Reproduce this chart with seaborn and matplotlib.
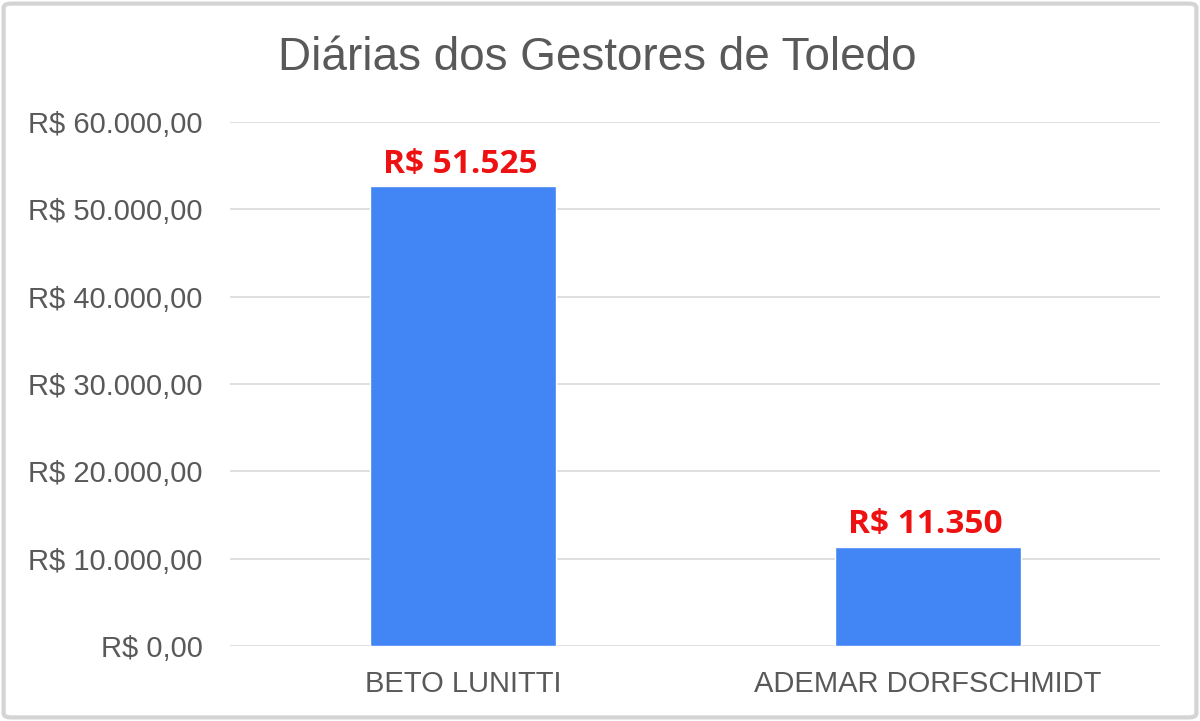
import matplotlib
matplotlib.use("Agg")
import matplotlib.pyplot as plt
from matplotlib.patches import FancyBboxPatch
from matplotlib.ticker import FuncFormatter
import seaborn as sns
import pandas as pd

gestores = ["BETO LUNITTI", "ADEMAR DORFSCHMIDT"]
diarias = [52650, 11350]
rotulos = ["R$ 51.525", "R$ 11.350"]
yticks = [0, 10000, 20000, 30000, 40000, 50000, 60000]

df = pd.DataFrame({"gestor": gestores, "valor": diarias})

sns.set_style("white")
plt.rcParams["font.family"] = ["Liberation Sans", "DejaVu Sans"]

fig = plt.figure(figsize=(12, 7.21), dpi=100)
ax = fig.add_axes([0.192, 0.104, 0.775, 0.727])

sns.barplot(data=df, x="gestor", y="valor", color="#4285F4", saturation=1,
            width=0.4, ax=ax, zorder=3)

def real(v, pos):
    s = f"{v:,.2f}".replace(",", "X").replace(".", ",").replace("X", ".")
    return "R$ " + s

ax.set_ylim(0, 60000)
ax.set_yticks(yticks)
ax.yaxis.set_major_formatter(FuncFormatter(real))
ax.grid(axis="y", color="#D9D9D9", linewidth=1.2, zorder=0)
ax.set_axisbelow(True)
for s in ax.spines.values():
    s.set_visible(False)
ax.tick_params(axis="both", length=0, labelsize=21, labelcolor="#595959")
ax.tick_params(axis="y", pad=20)
ax.tick_params(axis="x", pad=17)
ax.set_xlabel("")
ax.set_ylabel("")

for p, txt in zip(ax.patches, rotulos):
    ax.annotate(txt, (p.get_x() + p.get_width() / 2, p.get_height()),
                xytext=(-2, 4), textcoords="offset points", ha="center", va="bottom",
                color="#EE1111", fontsize=24, fontweight="bold",
                family=["Open Sans", "DejaVu Sans"])

fig.text(0.498, 0.92, "Diárias dos Gestores de Toledo", ha="center", va="center",
         fontsize=33, color="#595959")

frame = FancyBboxPatch((0.003, 0.005), 0.994, 0.99, boxstyle="round,pad=0,rounding_size=0.006",
                       transform=fig.transFigure, fill=False, edgecolor="#D4D4D4", linewidth=3)
fig.patches.append(frame)

fig.savefig("out.png", dpi=100)
